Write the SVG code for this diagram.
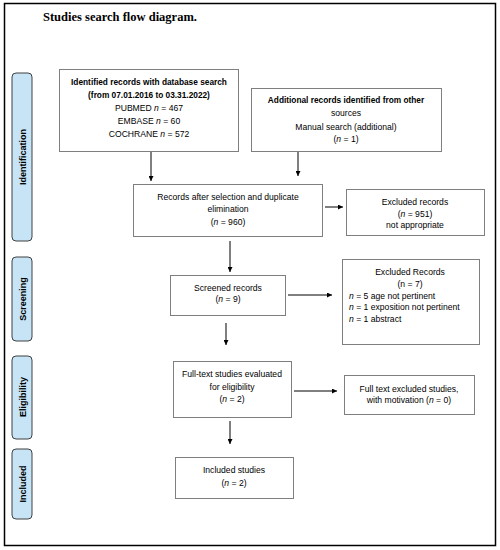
<svg xmlns="http://www.w3.org/2000/svg" width="500" height="550" viewBox="0 0 500 550">
<defs>
<marker id="ah" viewBox="0 0 10 10" refX="10" refY="5" markerWidth="5" markerHeight="5" orient="auto" markerUnits="userSpaceOnUse">
<path d="M0,0 L10,5 L0,10 z" fill="#000"/>
</marker>
<style>
.box{fill:#fff;stroke:#7f7f7f;stroke-width:1}
.tab{fill:#c6e4f5;stroke:#404040;stroke-width:1}
.t{font-family:"Liberation Sans","DejaVu Sans",sans-serif;font-size:8.6px;fill:#000;text-anchor:middle}
.l{text-anchor:start}
.b{font-weight:bold;font-size:8.3px}
.tl{font-family:"Liberation Sans","DejaVu Sans",sans-serif;font-size:9px;font-weight:bold;fill:#000;text-anchor:middle}
.c{stroke:#000;stroke-width:1;fill:none;marker-end:url(#ah)}
</style>
</defs>
<rect x="0" y="0" width="500" height="550" fill="#fff"/>
<rect x="4.5" y="3.5" width="491" height="542" fill="none" stroke="#000" stroke-width="1.5"/>
<text x="43" y="21" font-family="Liberation Serif,serif" font-size="12.5" font-weight="bold">Studies search flow diagram.</text>

<g id="tab-identification"><rect class="tab" x="12" y="73" width="20" height="168" rx="4"/><text class="tl" transform="translate(25.5,157) rotate(-90)">Identification</text></g>
<g id="tab-screening"><rect class="tab" x="12" y="257" width="20" height="84" rx="4"/><text class="tl" transform="translate(25.5,299) rotate(-90)">Screening</text></g>
<g id="tab-eligibility"><rect class="tab" x="12" y="356" width="20" height="83" rx="4"/><text class="tl" transform="translate(25.5,397) rotate(-90)">Eligibility</text></g>
<g id="tab-included"><rect class="tab" x="12" y="449" width="20" height="70" rx="4"/><text class="tl" transform="translate(25.5,484) rotate(-90)">Included</text></g>

<g id="identified">
<rect class="box" x="59.5" y="69.5" width="179" height="82"/>
<text class="t b" x="149" y="85">Identified records with database search</text>
<text class="t b" x="149" y="98">(from 07.01.2016 to 03.31.2022)</text>
<text class="t" x="149" y="111">PUBMED <tspan font-style="italic">n</tspan> = 467</text>
<text class="t" x="149" y="124">EMBASE <tspan font-style="italic">n</tspan> = 60</text>
<text class="t" x="149" y="137">COCHRANE <tspan font-style="italic">n</tspan> =  572</text>
</g>
<g id="additional">
<rect class="box" x="251.5" y="88.5" width="190" height="63"/>
<text class="t b" x="346" y="103">Additional records identified from other</text>
<text class="t" x="346" y="116">sources</text>
<text class="t" x="346" y="130">Manual search (additional)</text>
<text class="t" x="346" y="142">(<tspan font-style="italic">n</tspan> = 1)</text>
</g>
<g id="after-selection">
<rect class="box" x="133.5" y="184.5" width="189" height="52"/>
<text class="t" x="228" y="200">Records after selection and duplicate</text>
<text class="t" x="228" y="212">elimination</text>
<text class="t" x="228" y="225">(<tspan font-style="italic">n</tspan> = 960)</text>
</g>
<g id="excluded-951">
<rect class="box" x="346.5" y="189.5" width="138" height="46"/>
<text class="t" x="415" y="205">Excluded records</text>
<text class="t" x="415" y="217">(<tspan font-style="italic">n</tspan> = 951)</text>
<text class="t" x="415" y="228">not appropriate</text>
</g>
<g id="screened">
<rect class="box" x="170.5" y="275.5" width="115" height="40"/>
<text class="t" x="228" y="291">Screened records</text>
<text class="t" x="228" y="302">(<tspan font-style="italic">n</tspan> = 9)</text>
</g>
<g id="excluded-7">
<rect class="box" x="342.5" y="259.5" width="137" height="85"/>
<text class="t" x="410" y="275">Excluded Records</text>
<text class="t" x="410" y="287">(n = 7)</text>
<text class="t l" x="349" y="299"><tspan font-style="italic">n</tspan> = 5 age not pertinent</text>
<text class="t l" x="349" y="310"><tspan font-style="italic">n</tspan> = 1 exposition not pertinent</text>
<text class="t l" x="349" y="322"><tspan font-style="italic">n</tspan> = 1 abstract</text>
</g>
<g id="fulltext">
<rect class="box" x="173.5" y="361.5" width="118" height="56"/>
<text class="t" x="232" y="377">Full-text studies evaluated</text>
<text class="t" x="232" y="390">for eligibility</text>
<text class="t" x="232" y="402">(<tspan font-style="italic">n</tspan> = 2)</text>
</g>
<g id="fulltext-excluded">
<rect class="box" x="344.5" y="375.5" width="130" height="39"/>
<text class="t" x="409" y="392">Full text excluded studies,</text>
<text class="t" x="409" y="403">with motivation (<tspan font-style="italic">n</tspan> = 0)</text>
</g>
<g id="included">
<rect class="box" x="175.5" y="457.5" width="118" height="41"/>
<text class="t" x="234" y="473">Included studies</text>
<text class="t" x="234" y="486">(<tspan font-style="italic">n</tspan> = 2)</text>
</g>

<g id="connectors">
<line class="c" x1="151" y1="152" x2="151" y2="181"/>
<line class="c" x1="298" y1="152" x2="298" y2="176"/>
<line class="c" x1="325" y1="207" x2="343" y2="207"/>
<line class="c" x1="230" y1="241" x2="230" y2="272"/>
<line class="c" x1="288" y1="295" x2="332" y2="295"/>
<line class="c" x1="226" y1="323" x2="226" y2="345"/>
<line class="c" x1="294" y1="391" x2="337" y2="391"/>
<line class="c" x1="230" y1="421" x2="230" y2="444"/>
</g>
</svg>
